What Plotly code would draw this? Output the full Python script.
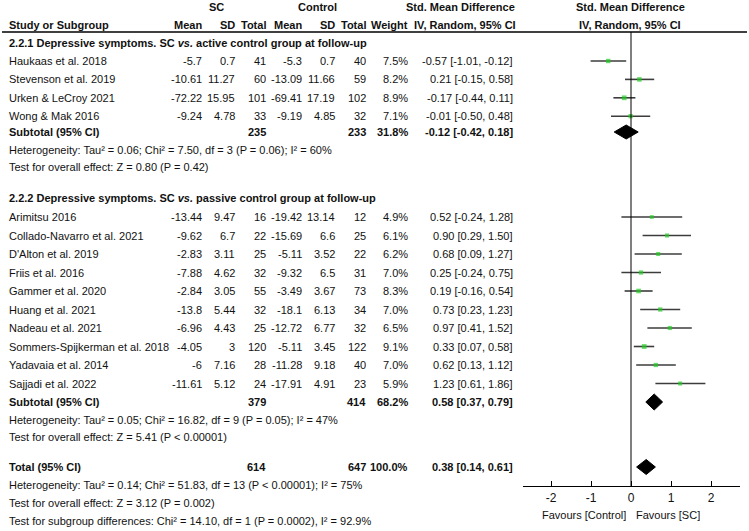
import plotly.graph_objects as go

W, H = 749, 531
FONT = "Liberation Sans, Arial, sans-serif"
FS = 11

# subgroup 2.2.1: active control
g1_study = ["Haukaas et al. 2018", "Stevenson et al. 2019", "Urken & LeCroy 2021", "Wong & Mak 2016"]
g1_sc_mean = [-5.7, -10.61, -72.22, -9.24]
g1_sc_sd = [0.7, 11.27, 15.95, 4.78]
g1_sc_n = [41, 60, 101, 33]
g1_ct_mean = [-5.3, -13.09, -69.41, -9.19]
g1_ct_sd = [0.7, 11.66, 17.19, 4.85]
g1_ct_n = [40, 59, 102, 32]
g1_weight = [7.5, 8.2, 8.9, 7.1]
g1_smd = [-0.57, 0.21, -0.17, -0.01]
g1_lo = [-1.01, -0.15, -0.44, -0.50]
g1_hi = [-0.12, 0.58, 0.11, 0.48]

# subgroup 2.2.2: passive control
g2_study = ["Arimitsu 2016", "Collado-Navarro et al. 2021", "D'Alton et al. 2019", "Friis et al. 2016",
            "Gammer et al. 2020", "Huang et al. 2021", "Nadeau et al. 2021",
            "Sommers-Spijkerman et al. 2018", "Yadavaia et al. 2014", "Sajjadi et al. 2022"]
g2_sc_mean = [-13.44, -9.62, -2.83, -7.88, -2.84, -13.8, -6.96, -4.05, -6, -11.61]
g2_sc_sd = [9.47, 6.7, 3.11, 4.62, 3.05, 5.44, 4.43, 3, 7.16, 5.12]
g2_sc_n = [16, 22, 25, 32, 55, 32, 25, 120, 28, 24]
g2_ct_mean = [-19.42, -15.69, -5.11, -9.32, -3.49, -18.1, -12.72, -5.11, -11.28, -17.91]
g2_ct_sd = [13.14, 6.6, 3.52, 6.5, 3.67, 6.13, 6.77, 3.45, 9.18, 4.91]
g2_ct_n = [12, 25, 22, 31, 73, 34, 32, 122, 40, 23]
g2_weight = [4.9, 6.1, 6.2, 7.0, 8.3, 7.0, 6.5, 9.1, 7.0, 5.9]
g2_smd = [0.52, 0.90, 0.68, 0.25, 0.19, 0.73, 0.97, 0.33, 0.62, 1.23]
g2_lo = [-0.24, 0.29, 0.09, -0.24, -0.16, 0.23, 0.41, 0.07, 0.13, 0.61]
g2_hi = [1.28, 1.50, 1.27, 0.75, 0.54, 1.23, 1.52, 0.58, 1.12, 1.86]

# pooled estimates: subtotal 1, subtotal 2, total
pool_label = ["Subtotal (95% CI)", "Subtotal (95% CI)", "Total (95% CI)"]
pool_sc_n = [235, 379, 614]
pool_ct_n = [233, 414, 647]
pool_weight = [31.8, 68.2, 100.0]
pool_smd = [-0.12, 0.58, 0.38]
pool_lo = [-0.42, 0.37, 0.14]
pool_hi = [0.18, 0.79, 0.61]

g1_notes = ["Heterogeneity: Tau² = 0.06; Chi² = 7.50, df = 3 (P = 0.06); I² = 60%",
            "Test for overall effect: Z = 0.80 (P = 0.42)"]
g2_notes = ["Heterogeneity: Tau² = 0.05; Chi² = 16.82, df = 9 (P = 0.05); I² = 47%",
            "Test for overall effect: Z = 5.41 (P < 0.00001)"]
total_notes = ["Heterogeneity: Tau² = 0.14; Chi² = 51.83, df = 13 (P < 0.00001); I² = 75%",
               "Test for overall effect: Z = 3.12 (P = 0.002)",
               "Test for subgroup differences: Chi² = 14.10, df = 1 (P = 0.0002), I² = 92.9%"]

tick_vals = [-2, -1, 0, 1, 2]
tick_text = ["-2", "-1", "0", "1", "2"]

# column anchors (px)
COL_NAME = 8
COLS = [203, 236, 267, 303, 336, 367, 409, 514]
AXIS_L, AXIS_R, AXIS_Y = 523, 740, 486


def g(v):
    return f"{v:g}"


def ci(e, lo, hi):
    return f"{e:.2f} [{lo:.2f}, {hi:.2f}]"


ann = []


def txt(x, y, s, anchor="left", bold=False, size=FS):
    if bold:
        s = f"<b>{s}</b>"
    ann.append(dict(x=x / W, y=y, xref="paper", yref="y", text=s, showarrow=False,
                    xanchor=anchor, yanchor="middle", borderpad=0,
                    font=dict(family=FONT, size=size, color="#111111")))


# headers
txt(216, 7, "SC", "center", True)
txt(317, 7, "Control", "center", True)
txt(460, 7, "Std. Mean Difference", "center", True)
txt(630, 7, "Std. Mean Difference", "center", True)
txt(COL_NAME, 25, "Study or Subgroup", bold=True)
for x, s in zip(COLS, ["Mean", "SD", "Total", "Mean", "SD", "Total", "Weight"]):
    txt(x, 25, s, "right", True)
txt(465, 25, "IV, Random, 95% CI", "center", True)
txt(630, 25, "IV, Random, 95% CI", "center", True)

fig = go.Figure()


def study_rows(ys, study, scm, scs, scn, ctm, cts, ctn, wt, smd, lo, hi):
    for i, y in enumerate(ys):
        txt(COL_NAME, y, study[i])
        vals = [g(scm[i]), g(scs[i]), g(scn[i]), g(ctm[i]), g(cts[i]), g(ctn[i]),
                f"{wt[i]:.1f}%", ci(smd[i], lo[i], hi[i])]
        for x, s in zip(COLS, vals):
            txt(x, y, s, "right")
    lx, ly = [], []
    for i, y in enumerate(ys):
        lx += [lo[i], hi[i], None]
        ly += [y, y, None]
    fig.add_trace(go.Scatter(x=lx, y=ly, mode="lines", line=dict(color="#3c3c3c", width=1.6),
                             hoverinfo="skip", showlegend=False))
    fig.add_trace(go.Scatter(x=smd, y=ys, mode="markers",
                             marker=dict(symbol="square", color="#22cc22",
                                         size=[2.6 + 0.24 * w for w in wt], line=dict(width=0)),
                             showlegend=False))


def pooled_row(k, y, half):
    txt(COL_NAME, y, pool_label[k], bold=True)
    vals = [None, None, g(pool_sc_n[k]), None, None, g(pool_ct_n[k]),
            f"{pool_weight[k]:.1f}%", ci(pool_smd[k], pool_lo[k], pool_hi[k])]
    for x, s in zip(COLS, vals):
        if s is not None:
            txt(x, y, s, "right", True)
    fig.add_trace(go.Scatter(
        x=[pool_lo[k], pool_smd[k], pool_hi[k], pool_smd[k], pool_lo[k]],
        y=[y, y - half, y, y + half, y], mode="lines", fill="toself",
        fillcolor="black", line=dict(color="black", width=1), showlegend=False))


# group 1
txt(COL_NAME, 43, "2.2.1 Depressive symptoms. SC <i>vs.</i> active control group at follow-up", bold=True)
ys1 = [61 + 18.4 * i for i in range(len(g1_study))]
study_rows(ys1, g1_study, g1_sc_mean, g1_sc_sd, g1_sc_n, g1_ct_mean, g1_ct_sd, g1_ct_n,
           g1_weight, g1_smd, g1_lo, g1_hi)
pooled_row(0, 132, 7)
txt(COL_NAME, 150, g1_notes[0])
txt(COL_NAME, 167, g1_notes[1])

# group 2
txt(COL_NAME, 198, "2.2.2 Depressive symptoms. SC <i>vs.</i> passive control group at follow-up", bold=True)
ys2 = [217 + 18.5 * i for i in range(len(g2_study))]
study_rows(ys2, g2_study, g2_sc_mean, g2_sc_sd, g2_sc_n, g2_ct_mean, g2_ct_sd, g2_ct_n,
           g2_weight, g2_smd, g2_lo, g2_hi)
pooled_row(1, 402, 8)
txt(COL_NAME, 420, g2_notes[0])
txt(COL_NAME, 437, g2_notes[1])

# total
pooled_row(2, 467, 7.5)
for y, s in zip([485, 503, 521], total_notes):
    txt(COL_NAME, y, s)

txt(627, 515, "Favours [Control]", "right")
txt(635, 515, "Favours [SC]", "left")

fig.add_shape(type="line", xref="paper", yref="y", x0=2 / W, x1=747 / W, y0=32, y1=32,
              line=dict(color="black", width=1.5))
fig.add_shape(type="line", xref="x", yref="y", x0=0, x1=0, y0=32, y1=AXIS_Y,
              line=dict(color="black", width=1))

fig.update_layout(
    width=W, height=H, margin=dict(l=0, r=0, t=0, b=0),
    paper_bgcolor="white", plot_bgcolor="white", showlegend=False,
    annotations=ann,
    xaxis=dict(domain=[AXIS_L / W, AXIS_R / W], range=[-2.7, 2.725], anchor="free",
               position=1 - AXIS_Y / H, showline=True, linecolor="black", linewidth=1.3,
               ticks="inside", ticklen=5, tickcolor="black", tickvals=tick_vals,
               ticktext=tick_text, showgrid=False, zeroline=False, fixedrange=True,
               tickfont=dict(family=FONT, size=12, color="#111111")),
    yaxis=dict(domain=[0, 1], range=[H, 0], visible=False, fixedrange=True),
)

# page body has a default 8px margin; drop it so the figure sits at the window corner
fig.write_html("out.html", config={"displayModeBar": False},
               post_script="document.body.style.margin='0px';")
